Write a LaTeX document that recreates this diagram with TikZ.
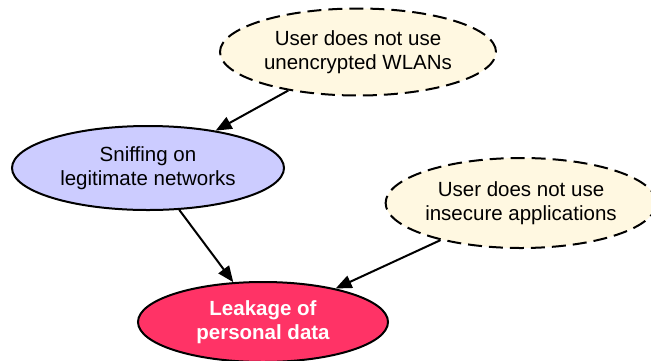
\documentclass[tikz,border=0pt]{standalone}
\usepackage{fontspec}
\setmainfont{Liberation Sans}
\usetikzlibrary{shapes.geometric,arrows.meta}
\definecolor{creamfill}{HTML}{FFF8E1}
\definecolor{lavender}{HTML}{CCCCFF}
\definecolor{alertred}{HTML}{FF3366}
\tikzset{
  goal/.style={ellipse, draw=black, line width=2pt, inner sep=0pt,
    align=center, font=\fontsize{20.5}{24}\selectfont},
  mitigation/.style={goal, fill=creamfill, dash pattern=on 14pt off 7pt},
  threat/.style={goal, fill=lavender},
  harm/.style={goal, fill=alertred, text=white, font=\fontsize{20.5}{24}\selectfont\bfseries},
  link/.style={line width=2pt, -{Triangle[length=16pt,width=13pt]}}
}
\begin{document}
\begin{tikzpicture}[x=1pt,y=-1pt]
  \useasboundingbox (0,0) rectangle (651,360);
  \node[mitigation, minimum width=276pt, minimum height=87pt] (wlan) at (358,52)
    {User does not use\\unencrypted WLANs};
  \node[threat, minimum width=272pt, minimum height=84pt] (sniff) at (148,168)
    {Sniffing on\\legitimate networks};
  \node[mitigation, minimum width=270pt, minimum height=90pt] (apps) at (521,203)
    {User does not use\\insecure applications};
  \node[harm, minimum width=250pt, minimum height=80pt] (leak) at (263,322)
    {Leakage of\\personal data};
  \draw[link] (wlan) -- (sniff);
  \draw[link] (sniff) -- (leak);
  \draw[link] (apps) -- (leak);
\end{tikzpicture}
\end{document}
